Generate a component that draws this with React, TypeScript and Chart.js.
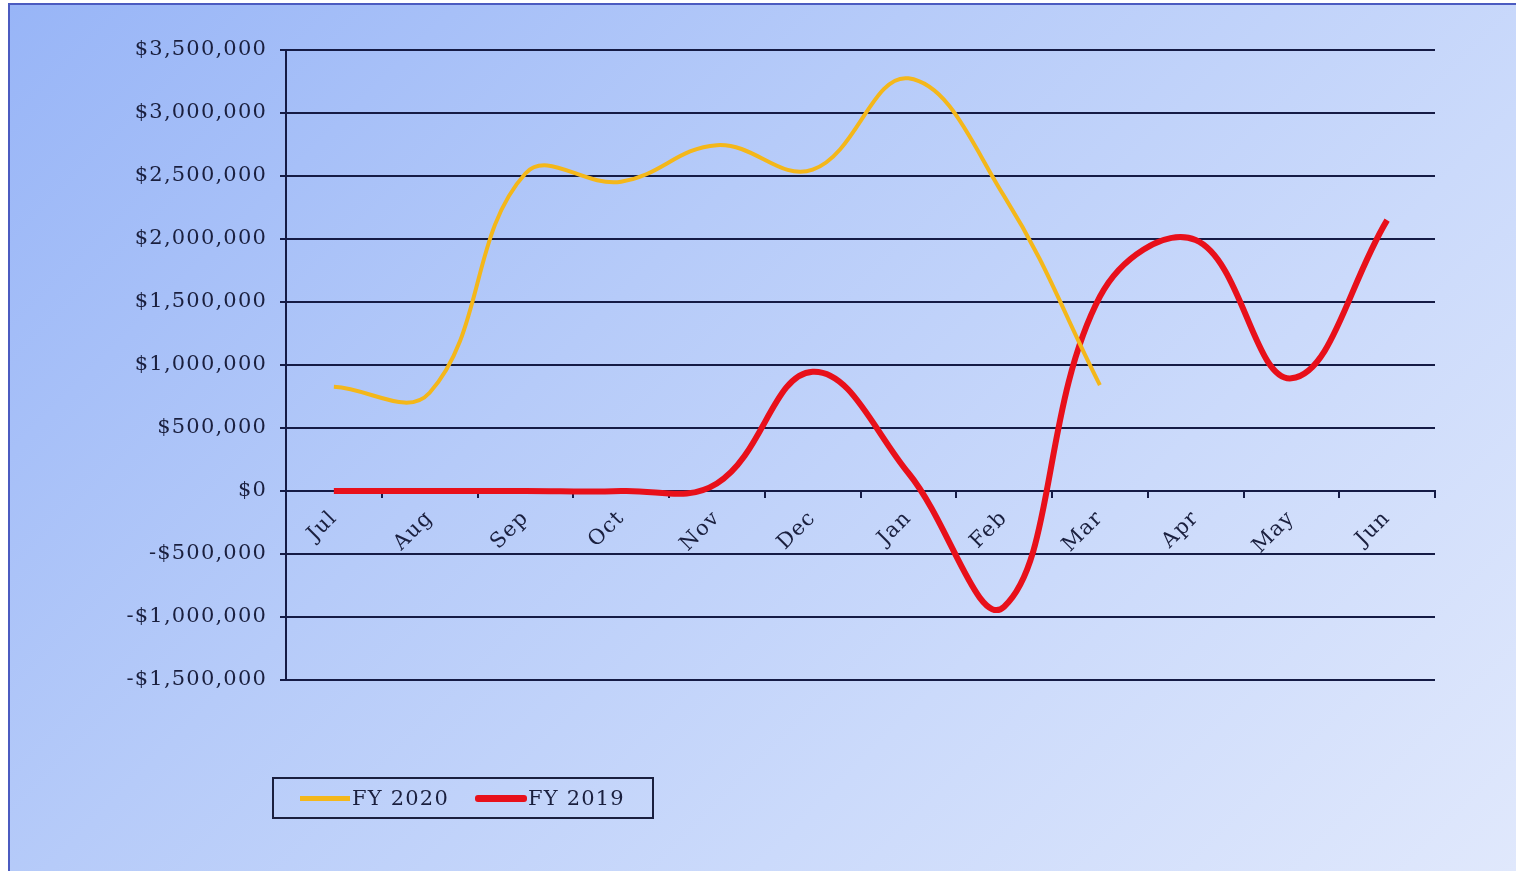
import React, { useEffect, useRef } from "react";
import { Chart, registerables } from "chart.js";

Chart.register(...registerables);

const months = ["Jul", "Aug", "Sep", "Oct", "Nov", "Dec", "Jan", "Feb", "Mar", "Apr", "May", "Jun"];
const fy2020 = [827000, 780000, 2520000, 2455000, 2745000, 2550000, 3275000, 2340000, 841000, null, null, null];
const fy2019 = [0, 0, 0, 0, 60000, 947000, 143000, -918000, 1542000, 1992000, 894000, 2150000];
const yMin = -1500000;
const yMax = 3500000;
const yStep = 500000;

const FONT = "'DejaVu Serif', serif";
const TEXT = "#1a1f3e";
const GRID = "#151b45";
const YELLOW = "#f4b71a";
const RED = "#e8101a";

function money(v: number): string {
  const s = "$" + Math.abs(v).toLocaleString("en-US");
  return v < 0 ? "-" + s : s;
}

const spacingPlugin = {
  id: "spacing",
  beforeDraw(chart: any) {
    chart.ctx.letterSpacing = "1.2px";
  },
  beforeDatasetsDraw(chart: any) {
    chart.ctx.letterSpacing = "0px";
  },
};

export default function App() {
  const ref = useRef<HTMLCanvasElement | null>(null);
  useEffect(() => {
    document.body.style.overflow = "hidden";
    const chart = new Chart(ref.current as HTMLCanvasElement, {
      type: "line",
      data: {
        labels: months,
        datasets: [
          {
            label: "FY 2020",
            data: fy2020,
            borderColor: YELLOW,
            backgroundColor: YELLOW,
            borderWidth: 4,
            pointRadius: 0,
            tension: 0.4,
            spanGaps: false,
          },
          {
            label: "FY 2019",
            data: fy2019,
            borderColor: RED,
            backgroundColor: RED,
            borderWidth: 6,
            pointRadius: 0,
            tension: 0.4,
          },
        ],
      },
      options: {
        animation: false,
        responsive: true,
        maintainAspectRatio: false,
        layout: { padding: { left: 0, top: 45, right: 81, bottom: 191 } },
        plugins: { legend: { display: false }, tooltip: { enabled: false } },
        scales: {
          x: {
            type: "category",
            position: { y: 0 } as any,
            offset: true,
            grid: { offset: true, drawOnChartArea: false, drawTicks: true, tickLength: 6, color: GRID, lineWidth: 2 },
            border: { display: true, color: GRID, width: 2 },
            ticks: {
              font: { family: FONT, size: 21 },
              color: TEXT,
              minRotation: 45,
              maxRotation: 45,
              padding: 9,
              autoSkip: false,
            },
          },
          y: {
            min: yMin,
            max: yMax,
            afterFit: (scale: any) => {
              scale.width = 276;
            },
            grid: { color: GRID, lineWidth: 2, tickLength: 6, drawTicks: true },
            border: { display: true, color: GRID, width: 2 },
            ticks: {
              stepSize: yStep,
              font: { family: FONT, size: 21 },
              color: TEXT,
              padding: 13,
              callback: (v: any) => money(Number(v)),
            },
          },
        },
      },
      plugins: [spacingPlugin],
    });
    return () => chart.destroy();
  }, []);

  const legendText: React.CSSProperties = {
    fontFamily: FONT,
    fontSize: 21,
    letterSpacing: "1.2px",
    color: TEXT,
    lineHeight: "21px",
  };

  return (
    <div
      style={{
        position: "absolute",
        left: 8,
        top: 3,
        width: 1508,
        height: 868,
        boxSizing: "border-box",
        borderTop: "2px solid #4b5bc0",
        borderLeft: "2px solid #4b5bc0",
        background: "linear-gradient(135deg, #98b5f7 0%, #b6cbf9 38%, #cbdafb 68%, #e0e8fc 100%)",
        overflow: "hidden",
      }}
    >
      <div style={{ position: "absolute", left: 0, top: 0, width: 1506, height: 866 }}>
        <canvas ref={ref} />
      </div>
      <div
        style={{
          position: "absolute",
          left: 262,
          top: 772,
          width: 382,
          height: 42,
          boxSizing: "border-box",
          border: "2px solid " + TEXT,
          display: "flex",
          alignItems: "center",
        }}
      >
        <span style={{ display: "inline-block", width: 50, height: 5, background: YELLOW, marginLeft: 26 }} />
        <span style={{ ...legendText, marginLeft: 2 }}>FY 2020</span>
        <span style={{ display: "inline-block", width: 52, height: 7, background: RED, marginLeft: 26, borderRadius: 3 }} />
        <span style={{ ...legendText, marginLeft: 1 }}>FY 2019</span>
      </div>
    </div>
  );
}
